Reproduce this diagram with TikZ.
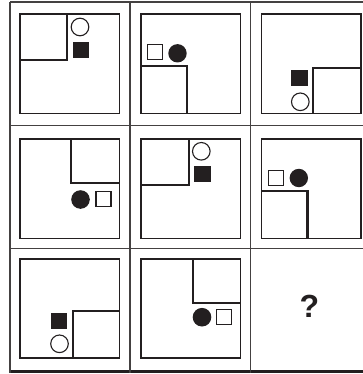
\documentclass[tikz,border=0pt]{standalone}
\usepackage{fontspec}
\setmainfont{Liberation Sans}
\definecolor{ink}{HTML}{231F20}
\tikzset{
  gridline/.style={draw=ink!85, line width=1.6pt},
  frame/.style={draw=ink, line width=1.3pt},
  elbow/.style={draw=ink, line width=2.2pt},
  hollow/.style={draw=ink, line width=1.1pt, fill=white},
  solid/.style={fill=ink, draw=none}
}
\begin{document}
\begin{tikzpicture}[x=1pt,y=-1pt]
\useasboundingbox (0,0) rectangle (363,374);
\fill[white] (0,0) rectangle (363,374);
% grid
\foreach \yy in {2,125.5,248.5} \draw[gridline] (10,\yy) -- (372,\yy);
\draw[draw=ink, line width=2.6pt] (10,371.5) -- (372,371.5);
\foreach \xx in {10,130,250.5} \draw[gridline] (\xx,2) -- (\xx,372.5);
% cell 1
\begin{scope}[shift={(20,14)}]
  \draw[frame] (0,0) rectangle (99.5,99.5);
  \draw[elbow] (46.7,0) -- (46.7,46) -- (0,46);
  \draw[hollow] (60,13) circle (8.8);
  \fill[solid] (53,28.5) rectangle (69,44.5);
\end{scope}
% cell 2
\begin{scope}[shift={(141,14)}]
  \draw[frame] (0,0) rectangle (99.5,99.5);
  \draw[elbow] (0,52) -- (46,52) -- (46,99.5);
  \draw[hollow] (6.3,30.5) rectangle (21.3,45.5);
  \fill[solid] (36.5,39.3) circle (9.2);
\end{scope}
% cell 3
\begin{scope}[shift={(261.5,14)}]
  \draw[frame] (0,0) rectangle (99.5,99.5);
  \draw[elbow] (99.5,54) -- (51.6,54) -- (51.6,99.5);
  \fill[solid] (29.5,56) rectangle (46,72);
  \draw[hollow] (38.8,87.8) circle (8.8);
\end{scope}
% cell 4
\begin{scope}[shift={(20,139)}]
  \draw[frame] (0,0) rectangle (99.5,99.5);
  \draw[elbow] (51,0) -- (51,44) -- (99.5,44);
  \fill[solid] (60.5,60.5) circle (9.3);
  \draw[hollow] (76,52.8) rectangle (91,67.8);
\end{scope}
% cell 5
\begin{scope}[shift={(141,139)}]
  \draw[frame] (0,0) rectangle (99.5,99.5);
  \draw[elbow] (47.6,0) -- (47.6,45.7) -- (0,45.7);
  \draw[hollow] (60.3,12.3) circle (8.8);
  \fill[solid] (53.3,27.4) rectangle (69.6,43.4);
\end{scope}
% cell 6
\begin{scope}[shift={(261.5,139)}]
  \draw[frame] (0,0) rectangle (99.5,99.5);
  \draw[elbow] (0,51.7) -- (46,51.7) -- (46,99.5);
  \draw[hollow] (6.6,31.4) rectangle (21.6,46.4);
  \fill[solid] (37.3,39) circle (9.2);
\end{scope}
% cell 7
\begin{scope}[shift={(20,259)}]
  \draw[frame] (0,0) rectangle (99.5,99);
  \draw[elbow] (99.5,51.7) -- (52.7,51.7) -- (52.7,99);
  \fill[solid] (30.7,54.3) rectangle (47.3,70.3);
  \draw[hollow] (39.5,84.8) circle (8.8);
\end{scope}
% cell 8
\begin{scope}[shift={(141,259)}]
  \draw[frame] (0,0) rectangle (99.5,99);
  \draw[elbow] (51.6,0) -- (51.6,44.3) -- (99.5,44.3);
  \fill[solid] (61,58.2) circle (9.3);
  \draw[hollow] (75.5,50.8) rectangle (90.5,65.8);
\end{scope}
% cell 9
\node[font=\fontsize{32}{34}\selectfont\bfseries, text=ink] (q) at (309.5,306) {?};
\end{tikzpicture}
\end{document}
